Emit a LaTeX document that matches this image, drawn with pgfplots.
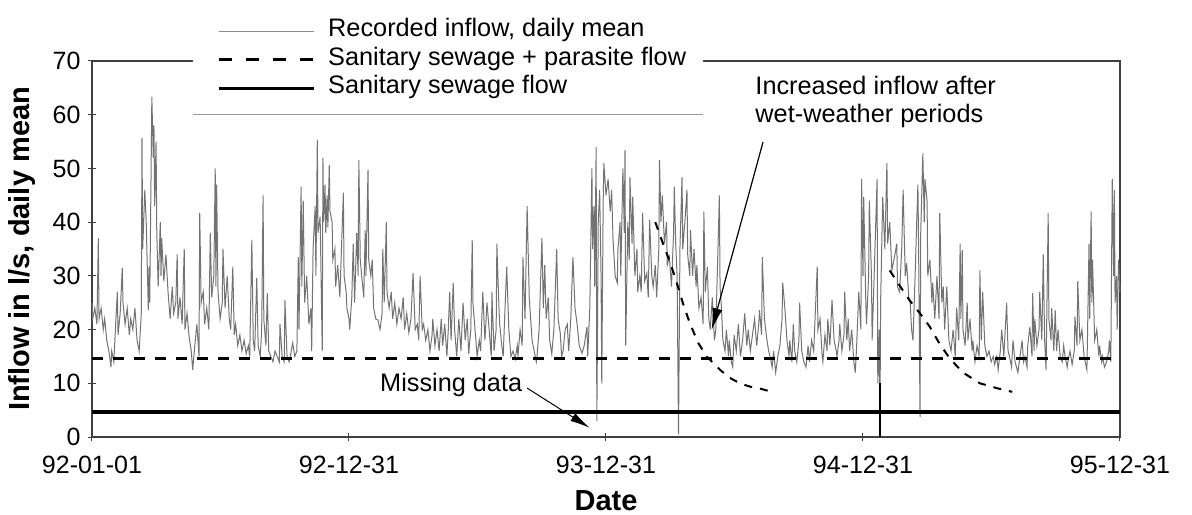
\documentclass[border=0pt]{standalone}
\usepackage{fontspec}
\setmainfont{Liberation Sans}
\usepackage{pgfplots}
\usepackage{pgfplotstable}
\pgfplotsset{compat=1.18}
\usetikzlibrary{arrows.meta}

\pgfplotstableread{
d v
0 25
1 22
4 24
7 21
9 37
10 22
13 24
16 20
18 22
21 18
24 16
27 13
28 16
31 14
34 22
36 27
37 19
40 23
43 31.5
44 25
47 21
50 24
53 19
55 22
58 20
61 24
64 18
67 16
70 23
71 55.7
72 35
75 46
77 40
80 23.6
81 31.7
82 25
85 63.3
87 52
88 58
89 43
91 55
92 38
94 28
97 40
98 30
99 37
102 29
105 34
108 27
111 22
114 28
116 23
119 25
121 34
122 22
125 26
128 21
131 35
132 20
135 23
138 18.6
141 16
143 12.5
146 17
149 21
152 15
153 41.7
155 25
158 27
160 21
163 24
166 20
168 38
170 26
173 30
175 50
176 28
177 47
179 27
182 22
185 25
186 35
189 24
192 30
195 22
197 20
200 31.7
202 19
204 21
207 17
210 19
213 16
216 18
219 15.5
222 17
224 15
227 36.7
229 18
231 16
234 29.6
236 17
239 15
241 20
243 45
244 22
247 17
249 26.8
251 16
254 15
257 14
260 16
263 15
266 14
267 21
270 15
273 14
274 25.5
277 15
280 14
283 16
285 17.5
288 15
291 16
293 33.5
294 20
297 46.6
298 28
300 44
302 25
305 30
308 21
311 24
312 16
314 35
317 43
318 30
320 55.3
321 38
324 41
327 16
328 52
329 40
331 47
332 38
334 45
335 39
337 50.6
338 42
341 40
342 33
345 35
346 28
349 32
352 26
353 30
357 45.5
358 30
361 27
362 24
365 22
366 20
369 26
371 36
373 25
376 38
378 30
379 51.6
381 33
383 30
386 26
388 38.5
389 30
392 49.7
393 33
396 30
398 33
400 24
403 22
406 21.8
409 20
412 23
413 35
415 25
418 40
419 27
422 24
425 27
427 22
430 25
433 21
436 24
439 22
442 26
444 20
447 23
450 19.4
453 22
456 30.5
459 20
462 21
464 18
466 30
469 20
471 21
474 18
477 20
480 16
483 19
484 22
487 17
490 20
493 16
496 22
498 17
501 21
504 15
506 20
508 27
510 18
513 28.7
515 20
518 15
521 22
524 16
527 25
530 18
533 22
535 15.5
538 20
540 36.7
541 25
544 20
547 15
550 18
552 16
555 27
558 18
561 25
564 20
567 15
568 27
571 16
574 20
575 36
578 24
579 21
582 17
584 15
586 22
589 31.7
592 20
595 15
598 16
601 14.5
604 17
605 15
608 20
611 17
612 33.5
615 22
618 43
621 26
622 24
625 18
628 16
631 14
632 15
635 20
639 37
641 24
643 32
645 22
648 26
650 18
653 15.5
656 20
660 35
662 22
665 19.4
667 15
669 16
672 20
675 21
677 16
680 22
683 33.5
686 24
689 21
692 17
696 15.6
699 17
703 20.5
704 15
707 24
710 50
711 35
713 43
714 28
716 54
717 3
719 40
721 46
723 30
724 10
726 44
727 51
730 45
733 48
736 42
738 46
740 36.7
743 30
746 28.7
747 35
750 40
751 30
754 50
756 38
757 53.4
758 17
761 40
763 33
764 48.4
767 36
768 44.7
771 30
774 35
775 27
778 30
780 27
782 41.7
785 29
788 30.5
790 26
792 40.4
795 30
797 28
800 32
802 26
805 35
806 51.6
808 40
810 45
813 36
816 40
817 32
820 33.5
823 28
826 38
827 46.6
829 36
831 30
833 0.5
835 35
838 48.4
839 35
842 40
845 46
846 34
849 30
850 38.5
853 30
855 35
858 28
859 32
862 24
865 26
868 21
869 42
871 27
874 31.7
876 22
878 20
881 26
884 18
886 20
891 45
892 28
894 24
896 18
899 16
901 20
904 15
905 18
908 14
910 13
912 19
915 16
918 21
921 15
924 18
927 23
930 17
932 20
935 16
938 19
941 22
944 17
947 21
948 23.6
951 19
952 33.5
955 22
958 18.6
961 16
963 15
966 13
968 16
971 12
974 15
977 17
980 22
981 28.7
984 24
987 18
990 15
991 18
994 14
996 21
998 16
1001 14
1004 18
1005 25
1008 16
1011 14
1014 13
1017 17
1019 14
1022 18
1025 16
1030 31.7
1031 20
1034 22
1037 15
1038 14
1041 19
1044 16
1045 22
1048 17
1051 25.5
1054 18
1057 16
1058 15
1061 18
1062 21
1065 16
1068 19
1069 27
1072 18
1074 22
1076 16
1079 20
1082 14
1084 12
1086 17
1089 27
1092 20
1093 48
1095 30
1096 44.7
1099 25
1100 21
1103 30
1104 44
1107 30
1108 18
1112 35
1115 48
1116 10
1118 20
1119 0
1120 25
1123 44.7
1126 35
1129 51
1130 36
1133 40
1136 31
1139 33
1143 36
1144 28
1147 27
1150 35
1152 46
1155 30
1157 32.4
1160 26
1162 25
1164 20
1166 18
1169 30
1172 43
1173 47
1174 35
1176 3.7
1177 38
1180 52.8
1182 40
1183 48
1186 44
1187 30
1190 33
1193 25
1194 28.7
1197 22
1200 30
1203 22
1204 41.7
1207 25
1209 28
1211 20
1214 28
1217 18
1220 16
1223 20
1226 15
1228 24
1231 18
1233 36
1234 22
1236 34.8
1237 20
1240 17
1243 25
1244 18
1247 22
1250 16
1251 18
1254 14
1257 17
1260 15
1261 31
1263 18
1265 27
1268 17
1271 15
1274 16
1277 14
1280 15
1282 13.5
1285 15
1287 12.5
1290 16
1292 20
1295 15
1299 25
1301 16
1303 15
1306 13
1308 18
1311 14
1315 12
1318 15
1321 18
1323 14
1325 15
1328 13
1329 17
1332 20.5
1335 15
1336 26.8
1338 16
1339 22
1342 17
1345 20
1346 27
1349 18
1351 34
1353 18
1355 12.5
1358 41.7
1359 22
1362 18
1363 24
1366 16
1368 23.6
1370 16
1372 20
1375 15
1378 14
1380 17
1382 15
1385 13
1386 14
1389 16
1392 13.5
1395 16
1396 22.4
1399 17
1400 29
1403 18
1406 20
1409 15
1413 12.5
1414 20
1416 36
1417 22
1419 42
1420 25
1421 33
1424 18
1427 20
1430 15
1431 17
1434 14
1435 15
1438 13
1441 14
1444 16
1445 18
1447 14
1449 48
1451 30
1452 46
1453 25
1455 30
1456 20
1458 33
1460 27
}\inflow

\pgfplotstableread{
d v
800 40
811 36
821 32.5
831 28.5
839 25
849 21.2
861 17.5
873 15
892 12.5
906 11
920 10
934 9.4
949 9
966 8.4
}\recessA

\pgfplotstableread{
d v
1133 31
1148 28
1162 25.3
1176 23
1190 20.5
1204 17.3
1219 14.5
1237 12
1261 10
1285 9.1
1307 8.4
}\recessB

\newcommand\txt{\fontsize{25.3bp}{29bp}\selectfont}
\newcommand\tck{\fontsize{25bp}{29bp}\selectfont}

\begin{document}
\begin{tikzpicture}
\path[use as bounding box] (-92bp,-78bp) rectangle (1100bp,437bp);
\begin{axis}[
  scale only axis, width=1028bp, height=376bp,
  xmin=0, xmax=1460, ymin=0, ymax=70,
  xtick={0,365,730,1095,1460},
  xticklabels={92-01-01,92-12-31,93-12-31,94-12-31,95-12-31},
  ytick={0,10,...,70},
  tick pos=left,
  axis line style={line width=2bp, black!75},
  tick style={line width=1bp, black!75},
  tick align=center, major tick length=8bp,
  ticklabel style={font=\tck},
  xticklabel style={yshift=-12bp},
  yticklabel style={xshift=-4bp},
  /pgf/number format/assume math mode=true,
  xlabel={Date}, ylabel={Inflow in l/s, daily mean},
  label style={font=\bfseries\fontsize{29bp}{32bp}\selectfont},
  xlabel style={yshift=-9bp},
  ylabel style={yshift=10bp},
  clip=false,
  legend style={at={(axis description cs:0.1216,1.112)}, anchor=north west,
    draw=none, fill=none, font=\txt, inner sep=0pt, row sep=6bp, column sep=13bp,
    nodes={inner sep=0pt, text height=17.5bp, text depth=5bp}},
  legend cell align=left,
  legend image code/.code={\draw[#1] (0bp,-1bp) -- (95bp,-1bp);},
]
\addlegendimage{black!45, line width=1bp}
\addlegendentry{Recorded inflow, daily mean}
\addlegendimage{black, line width=3bp, dash pattern=on 13bp off 14bp}
\addlegendentry{Sanitary sewage + parasite flow}
\addlegendimage{black, line width=3bp}
\addlegendentry{Sanitary sewage flow}

\addplot[forget plot, black!55, line width=1bp] table[x=d,y=v] {\inflow};
\addplot[forget plot, black, line width=2.5bp] coordinates {(1119,10) (1119,0)};
\addplot[forget plot, black, line width=3bp, dash pattern=on 11bp off 10bp] coordinates {(0,14.7) (1460,14.7)};
\addplot[forget plot, black, line width=3.5bp] coordinates {(0,4.7) (1460,4.7)};
\addplot[forget plot, black, line width=2bp, dash pattern=on 8bp off 8bp] table[x=d,y=v] {\recessA};
\addplot[forget plot, black, line width=2bp, dash pattern=on 8bp off 8bp] table[x=d,y=v] {\recessB};

\fill[white] (axis cs:143,60) rectangle (axis cs:868,75);
\draw[black!40, line width=1bp] (axis cs:143,60) -- (axis cs:868,60);

\node[anchor=base west, font=\txt, inner sep=0pt] at (axis cs:409,8.4) {Missing data};
\draw[line width=1bp, -{Latex[length=20bp,width=9bp]}] (axis cs:618,9.1) -- (axis cs:707,1.7);
\node[anchor=base west, font=\txt, inner sep=0pt] at (axis cs:942,63.7) {Increased inflow after};
\node[anchor=base west, font=\txt, inner sep=0pt] at (axis cs:942,58.5) {wet-weather periods};
\draw[line width=1.2bp, -{Latex[length=22bp,width=10bp]}] (axis cs:953,54.9) -- (axis cs:880,19.9);
\end{axis}
\end{tikzpicture}
\end{document}
